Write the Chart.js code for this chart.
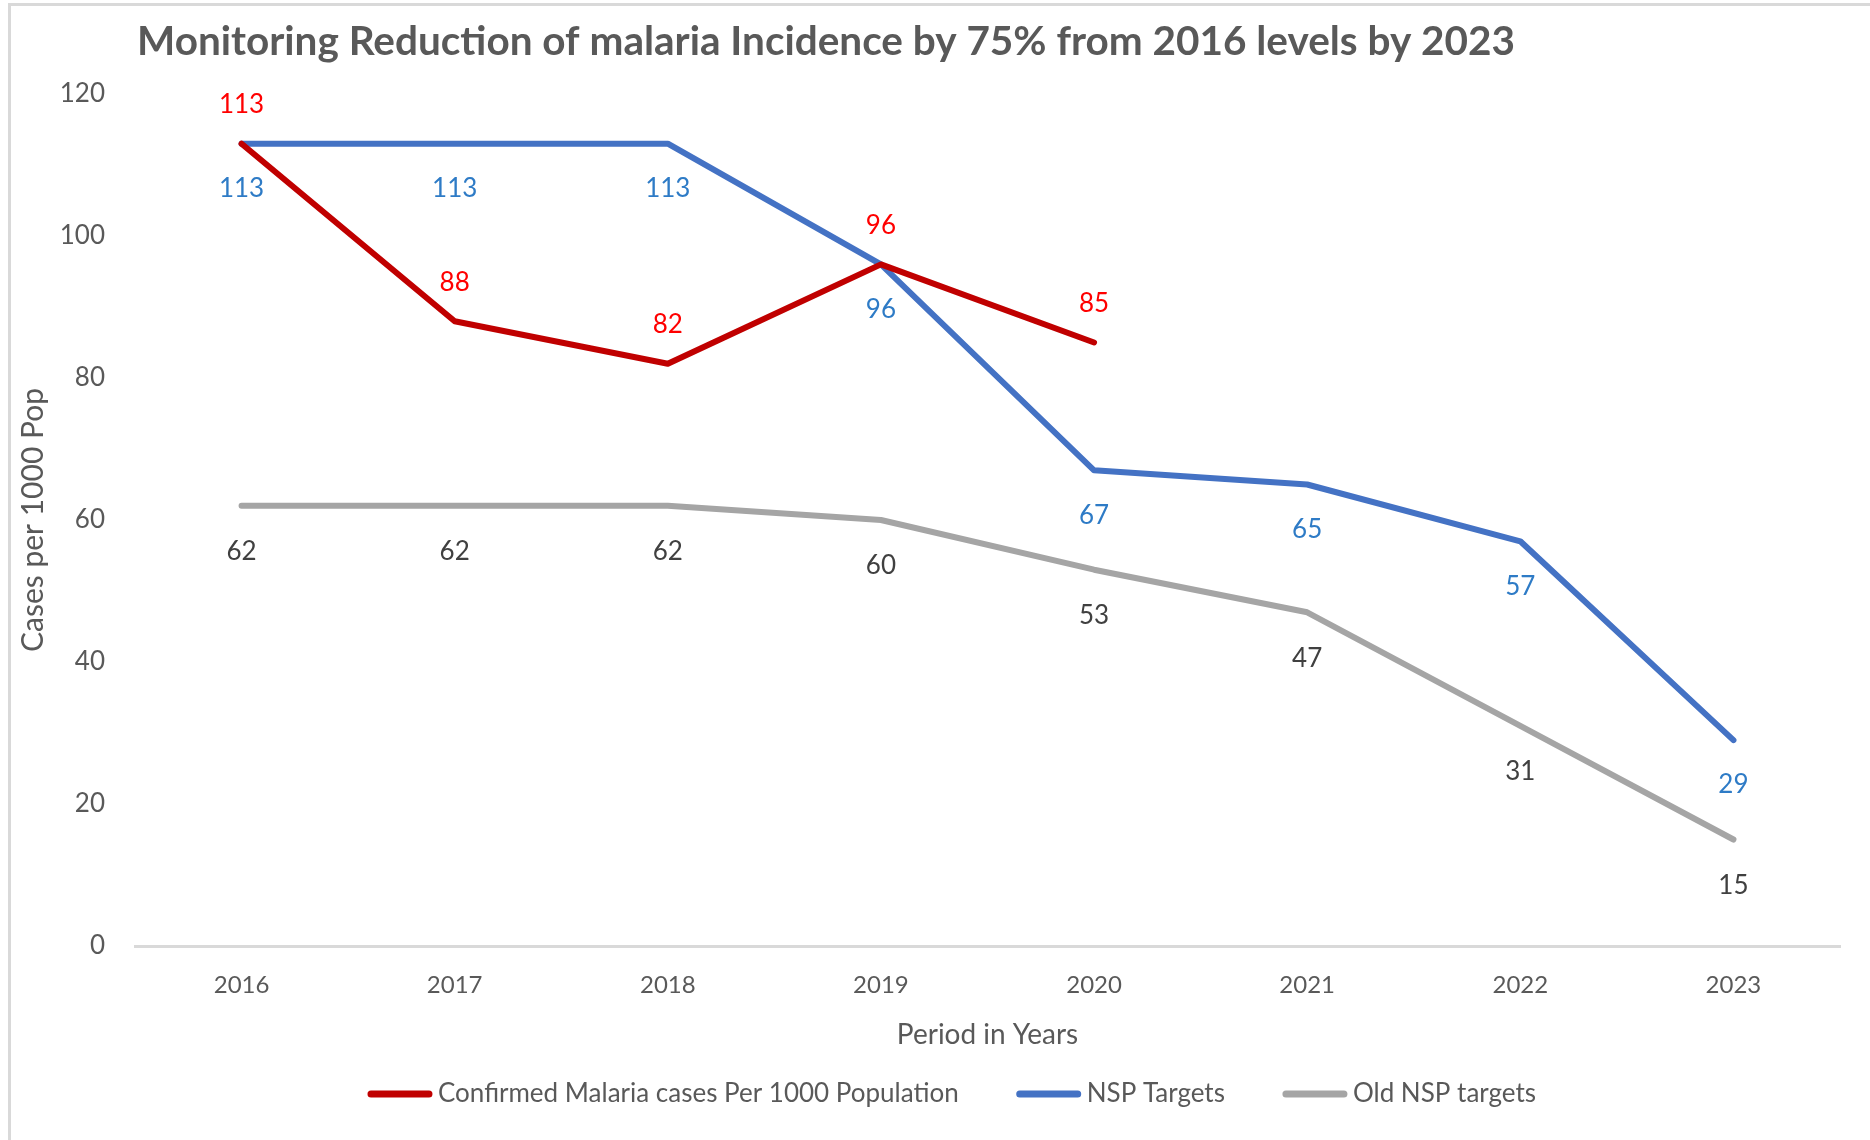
<!DOCTYPE html>
<html>
<head>
<meta charset="utf-8">
<title>Monitoring Reduction of malaria Incidence</title>
<script src="https://cdn.jsdelivr.net/npm/chart.js@4.4.1/dist/chart.umd.min.js"></script>
<style>
  html, body { margin: 0; padding: 0; background: #ffffff; }
  #wrap { position: relative; width: 1870px; height: 1140px; overflow: hidden; }
  #frame {
    position: absolute; left: 8px; top: 3px; right: -4px; bottom: -4px;
    border-left: 3px solid #d9d9d9; border-top: 3px solid #d9d9d9;
    pointer-events: none;
  }
  canvas { display: block; }
</style>
</head>
<body>
<div id="wrap">
  <canvas id="chart" width="1870" height="1140"></canvas>
  <div id="frame"></div>
</div>
<script>
// Years on the horizontal axis
const years = ['2016', '2017', '2018', '2019', '2020', '2021', '2022', '2023'];

// Cases per 1000 population
const confirmedCases = [113, 88, 82, 96, 85, null, null, null];
const nspTargets = [113, 113, 113, 96, 67, 65, 57, 29];
const oldNspTargets = [62, 62, 62, 60, 53, 47, 31, 15];

// Series names
const seriesNames = ['Confirmed Malaria cases Per 1000 Population', 'NSP Targets', 'Old NSP targets'];

const chartTitle = 'Monitoring Reduction of malaria Incidence by 75% from 2016 levels by 2023';
const xAxisTitle = 'Period in Years';
const yAxisTitle = 'Cases per 1000 Pop';

const FONT = "'Lato', 'Open Sans', 'Liberation Sans', sans-serif";
const TEXT_GREY = '#595959';

// Value labels next to each point: text is the data value
const valueLabels = {
  id: 'valueLabels',
  afterDatasetsDraw(chart) {
    const ctx = chart.ctx;
    ctx.save();
    ctx.font = `26px ${FONT}`;
    ctx.textAlign = 'center';
    ctx.textBaseline = 'middle';
    chart.data.datasets.forEach((ds, i) => {
      const meta = chart.getDatasetMeta(i);
      meta.data.forEach((pt, j) => {
        const v = ds.data[j];
        if (v === null || v === undefined) return;
        ctx.fillStyle = ds.labelColor;
        ctx.fillText(String(v), pt.x, pt.y + ds.labelShift);
      });
    });
    ctx.restore();
  }
};

// Chart title, left-aligned above the plot
const headline = {
  id: 'headline',
  afterDraw(chart) {
    const ctx = chart.ctx;
    ctx.save();
    ctx.font = `bold 40.5px ${FONT}`;
    ctx.fillStyle = TEXT_GREY;
    ctx.textAlign = 'left';
    ctx.textBaseline = 'middle';
    ctx.fillText(chartTitle, 137, 42);
    ctx.restore();
  }
};

// Line-sample legend row under the axis title
const lineLegend = {
  id: 'lineLegend',
  afterDraw(chart) {
    const ctx = chart.ctx;
    const sample = 64, gap = 6, spacing = 58, y = 1094;
    ctx.save();
    ctx.font = `26px ${FONT}`;
    ctx.textBaseline = 'middle';
    ctx.textAlign = 'left';
    const items = chart.data.datasets.map(ds => ({
      text: ds.label, color: ds.borderColor, w: ctx.measureText(ds.label).width
    }));
    const total = items.reduce((s, it) => s + sample + gap + it.w, 0) + spacing * (items.length - 1);
    let x = 952 - total / 2;
    items.forEach(it => {
      ctx.strokeStyle = it.color;
      ctx.lineWidth = 7;
      ctx.lineCap = 'round';
      ctx.beginPath();
      ctx.moveTo(x + 3, y);
      ctx.lineTo(x + sample - 3, y);
      ctx.stroke();
      ctx.fillStyle = TEXT_GREY;
      ctx.fillText(it.text, x + sample + gap, y);
      x += sample + gap + it.w + spacing;
    });
    ctx.restore();
  }
};

const lineStyle = {
  borderWidth: 6,
  pointRadius: 0,
  pointHoverRadius: 0,
  tension: 0,
  borderJoinStyle: 'round',
  borderCapStyle: 'round',
  spanGaps: false
};

new Chart(document.getElementById('chart'), {
  type: 'line',
  data: {
    labels: years,
    datasets: [
      Object.assign({ label: seriesNames[0], data: confirmedCases, borderColor: '#c00000', backgroundColor: '#c00000', labelColor: '#ff0000', labelShift: -39, order: 0 }, lineStyle),
      Object.assign({ label: seriesNames[1], data: nspTargets, borderColor: '#4472c4', backgroundColor: '#4472c4', labelColor: '#2e7bc6', labelShift: 45, order: 1 }, lineStyle),
      Object.assign({ label: seriesNames[2], data: oldNspTargets, borderColor: '#a5a5a5', backgroundColor: '#a5a5a5', labelColor: '#404040', labelShift: 46, order: 2 }, lineStyle)
    ]
  },
  options: {
    responsive: false,
    animation: false,
    events: [],
    layout: { padding: { top: 94, right: 30, bottom: 84, left: 0 } },
    plugins: {
      legend: { display: false },
      title: { display: false },
      tooltip: { enabled: false }
    },
    scales: {
      x: {
        offset: true,
        grid: { display: false, drawTicks: false },
        border: { display: true, color: '#d9d9d9', width: 3 },
        ticks: { color: TEXT_GREY, font: { family: FONT, size: 24 }, padding: 25, maxRotation: 0 },
        title: { display: true, text: xAxisTitle, color: TEXT_GREY, font: { family: FONT, size: 28 }, padding: { top: 0, bottom: 4 } },
        afterFit(scale) { scale.height = 110; }
      },
      y: {
        min: 0,
        max: 120,
        ticks: { stepSize: 20, color: TEXT_GREY, font: { family: FONT, size: 26 }, padding: 30 },
        grid: { display: false, drawTicks: false },
        border: { display: false },
        title: { display: true, text: yAxisTitle, color: TEXT_GREY, font: { family: FONT, size: 30 }, padding: { top: 15, bottom: 0 } },
        afterFit(scale) { scale.width = 135; }
      }
    }
  },
  plugins: [valueLabels, headline, lineLegend]
});
</script>
</body>
</html>
